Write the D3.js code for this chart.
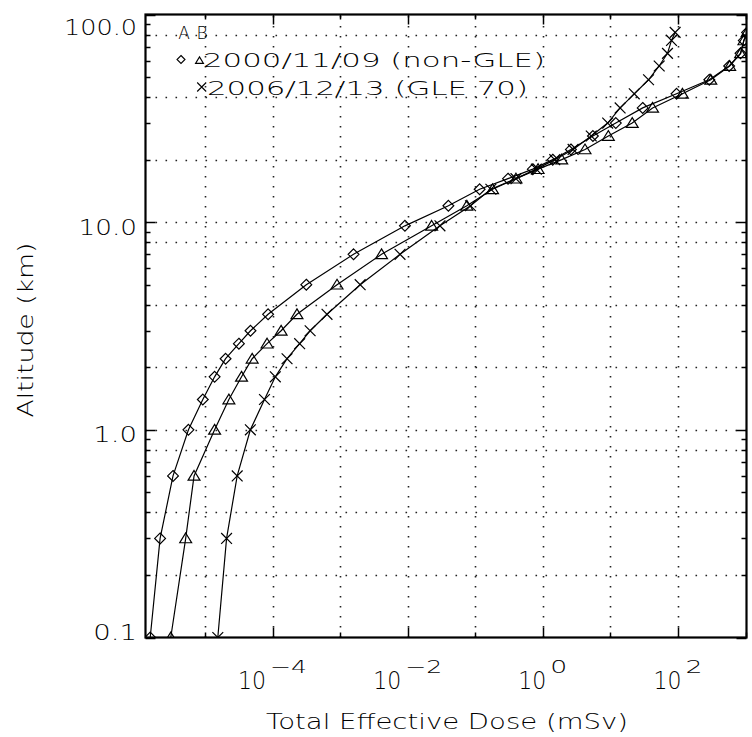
<!DOCTYPE html>
<html><head><meta charset="utf-8">
<script src="https://cdn.jsdelivr.net/npm/d3@7"></script>
<style>
body{margin:0;background:#fff}
svg{display:block}
text{font-family:"DejaVu Sans ExtraLight","DejaVu Sans",sans-serif;font-weight:200;fill:#000}
</style>
</head><body>
<svg id="chart" width="752" height="737"></svg>
<script>
// ---- data ----
const altitudes = [0.1, 0.3, 0.6, 1.0, 1.4, 1.8, 2.2, 2.6, 3.0, 3.6, 5.0, 7.0, 9.6, 12.0, 14.4, 16.2, 18.0, 20.0, 22.4, 26.0, 30.0, 35.5, 41.5, 48.5, 56.5, 65.0, 75.0, 82.0];
const doseA_nonGLE = [1.55e-6, 2.17e-6, 3.37e-6, 5.7e-6, 9.3e-6, 1.39e-5, 2.02e-5, 3.18e-5, 4.72e-5, 8.6e-5, 3.16e-4, 1.58e-3, 9.1e-3, 0.040, 0.116, 0.305, 0.71, 1.40, 2.6, 5.5, 12, 30, 95, 290, 570, 840, 940, 1050];
const doseB_nonGLE = [3.12e-6, 5.19e-6, 6.9e-6, 1.39e-5, 2.26e-5, 3.48e-5, 5.0e-5, 8.3e-5, 1.34e-4, 2.3e-4, 9.0e-4, 4.1e-3, 0.0226, 0.075, 0.18, 0.40, 0.85, 1.9, 4.2, 9.3, 21, 42, 116, 305, 580, 843, 944, 1050];
const doseB_GLE70 = [1.55e-5, 2.09e-5, 3.0e-5, 4.7e-5, 7.6e-5, 1.1e-4, 1.64e-4, 2.52e-4, 3.6e-4, 6.4e-4, 1.98e-3, 7.7e-3, 0.030, 0.085, 0.17, 0.40, 0.80, 1.5, 2.8, 5.2, 9.1, 13.9, 22.5, 36.6, 52.6, 69.8, 80, 90.6];

const xMajorExponents = [-4, -2, 0, 2];
const xMinorExponents = [-5, -3, -1, 1, 3];
const xGridExponents = [-5, -4, -3, -2, -1, 0, 1, 2];
const yTickValues = [0.1, 1, 10, 100];
const yTickLabels = ["0.1", "1.0", "10.0", "100.0"];
const yGridValues = [0.2, 0.4, 0.8, 1, 2, 4, 8, 10, 20, 40, 80];
const legendHeader = ["A", "B"];
const legendLabels = ["2000/11/09 (non-GLE)", "2006/12/13 (GLE 70)"];
const xTitle = "Total Effective Dose (mSv)";
const yTitle = "Altitude (km)";

// ---- layout ----
const L = 145.5, R = 746.5, T = 14.5, B = 637.5;
const svg = d3.select("#chart");
const x = d3.scaleLog().domain([1.32e-6, 1.03e3]).range([L, R]);
const y = d3.scaleLog().domain([0.1, 100]).range([B, T]);

svg.append("defs").append("clipPath").attr("id", "clip")
  .append("rect").attr("x", L).attr("y", T).attr("width", R - L).attr("height", B - T);

// grid
const grid = svg.append("g").attr("stroke", "#222").attr("stroke-width", 1.6)
  .attr("stroke-dasharray", "1.6 8.4").attr("fill", "none");
grid.selectAll("line.v").data(xGridExponents).join("line")
  .attr("x1", e => Math.round(x(Math.pow(10, e))) + 0.5).attr("x2", e => Math.round(x(Math.pow(10, e))) + 0.5)
  .attr("y1", B).attr("y2", T);
grid.selectAll("line.h").data(yGridValues).join("line")
  .attr("y1", v => Math.round(y(v)) + 0.5).attr("y2", v => Math.round(y(v)) + 0.5)
  .attr("x1", L).attr("x2", R);

// ticks
const ticks = svg.append("g").attr("stroke", "#000").attr("stroke-width", 1.5);
const xt = [];
xMajorExponents.forEach(e => xt.push({v: Math.pow(10, e), len: 10}));
xMinorExponents.forEach(e => xt.push({v: Math.pow(10, e), len: 5}));
xt.forEach(t => {
  const px = Math.round(x(t.v)) + 0.5;
  ticks.append("line").attr("x1", px).attr("x2", px).attr("y1", B).attr("y2", B - t.len);
  ticks.append("line").attr("x1", px).attr("x2", px).attr("y1", T).attr("y2", T + t.len);
});
const yt = [];
yTickValues.forEach(v => yt.push({v, len: 10}));
[0.1, 1, 10].forEach(d => { for (let k = 2; k <= 9; k++) yt.push({v: d * k, len: 5}); });
yt.forEach(t => {
  const py = Math.round(y(t.v)) + 0.5;
  ticks.append("line").attr("y1", py).attr("y2", py).attr("x1", L).attr("x2", L + t.len);
  ticks.append("line").attr("y1", py).attr("y2", py).attr("x1", R).attr("x2", R - t.len);
});

// frame
svg.append("rect").attr("x", L).attr("y", T).attr("width", R - L).attr("height", B - T)
  .attr("fill", "none").attr("stroke", "#000").attr("stroke-width", 2.2);

// markers
const markerPath = {
  diamond: r => `M0,${-r}L${r},0L0,${r}L${-r},0Z`,
  triangle: r => `M0,${-r}L${r * 1.1},${r * 0.8}L${-r * 1.1},${r * 0.8}Z`,
  cross: r => `M${-r},${-r}L${r},${r}M${-r},${r}L${r},${-r}`
};
const series = [
  {vals: doseA_nonGLE, sym: "diamond"},
  {vals: doseB_nonGLE, sym: "triangle"},
  {vals: doseB_GLE70, sym: "cross"}
];
const plot = svg.append("g").attr("clip-path", "url(#clip)");
const line = d3.line().x(d => x(d.v)).y(d => y(d.a));
series.forEach(s => {
  const pts = s.vals.map((v, i) => ({v, a: altitudes[i]}));
  plot.append("path").datum(pts).attr("d", line).attr("fill", "none")
    .attr("stroke", "#000").attr("stroke-width", 1.2);
  plot.selectAll(null).data(pts).join("path")
    .attr("transform", d => `translate(${x(d.v)},${y(d.a)})`)
    .attr("d", markerPath[s.sym](5.4))
    .attr("fill", "none").attr("stroke", "#000").attr("stroke-width", 1.2);
});

// y tick labels
svg.append("g").selectAll("text").data(yTickValues).join("text")
  .attr("x", 137).attr("text-anchor", "end")
  .attr("y", v => Math.min(Math.max(y(v) + 12.5, 35), 639.5))
  .attr("font-size", 22)
  .attr("textLength", (v, i) => yTickLabels[i].length * 14.6).attr("lengthAdjust", "spacingAndGlyphs")
  .text((v, i) => yTickLabels[i]);

// x tick labels: 10^e
xMajorExponents.forEach(e => {
  const sup = (e < 0 ? "\u2212" : "") + Math.abs(e);
  const baseW = 28, gap = 4, supW = sup.length === 1 ? 17 : 37;
  const start = x(Math.pow(10, e)) - (baseW + gap + supW) / 2;
  svg.append("text").attr("x", start).attr("y", 689).attr("font-size", 24)
    .attr("textLength", baseW).attr("lengthAdjust", "spacingAndGlyphs").text("10");
  svg.append("text").attr("x", start + baseW + gap).attr("y", 673).attr("font-size", 18)
    .attr("textLength", supW).attr("lengthAdjust", "spacingAndGlyphs").text(sup);
});

// axis titles
svg.append("text").attr("x", 447).attr("y", 729).attr("text-anchor", "middle")
  .attr("font-size", 22).attr("textLength", 362).attr("lengthAdjust", "spacingAndGlyphs").text(xTitle);
svg.append("text").attr("transform", "translate(33,330) rotate(-90)").attr("text-anchor", "middle")
  .attr("font-size", 21).attr("textLength", 175).attr("lengthAdjust", "spacingAndGlyphs").text(yTitle);

// legend
const lg = svg.append("g");
lg.append("text").attr("x", 184).attr("y", 39).attr("text-anchor", "middle").attr("font-size", 17).text(legendHeader[0]);
lg.append("text").attr("x", 202).attr("y", 39).attr("text-anchor", "middle").attr("font-size", 17).text(legendHeader[1]);
lg.append("path").attr("transform", "translate(181,59.5)").attr("d", markerPath.diamond(4))
  .attr("fill", "none").attr("stroke", "#000").attr("stroke-width", 1.1);
lg.append("path").attr("transform", "translate(199.5,60.5)").attr("d", markerPath.triangle(3.6))
  .attr("fill", "none").attr("stroke", "#000").attr("stroke-width", 1.1);
lg.append("path").attr("transform", "translate(201.7,87)").attr("d", markerPath.cross(4.5))
  .attr("fill", "none").attr("stroke", "#000").attr("stroke-width", 1.1);
lg.append("text").attr("x", 203).attr("y", 66.5).attr("font-size", 20)
  .attr("textLength", 342).attr("lengthAdjust", "spacingAndGlyphs").text(legendLabels[0]);
lg.append("text").attr("x", 207).attr("y", 95).attr("font-size", 20)
  .attr("textLength", 321).attr("lengthAdjust", "spacingAndGlyphs").text(legendLabels[1]);
</script>
</body></html>
